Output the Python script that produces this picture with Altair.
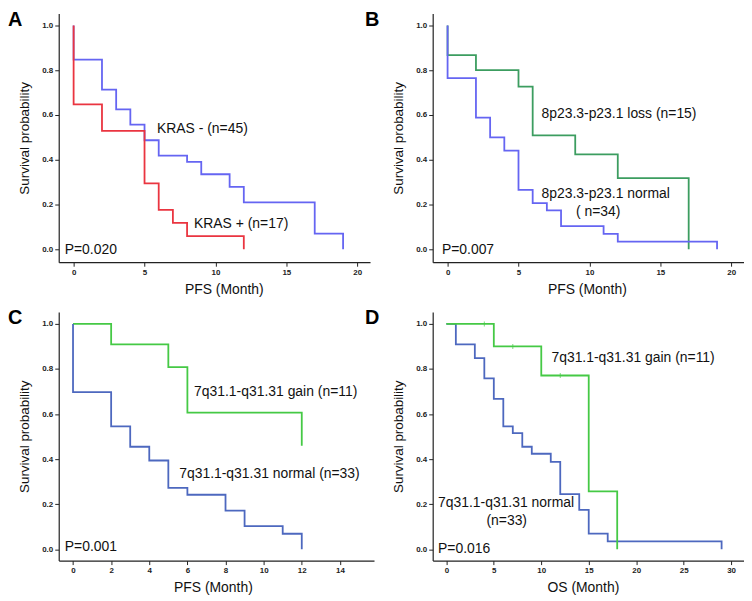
import altair as alt
import pandas as pd

FONT = "Liberation Sans"

# ---------------- data ----------------
# Panel A  (PFS, KRAS)
a_blue_t = [0, 0, 2, 3, 4, 5, 6, 8, 9, 11, 12, 17, 19]
a_blue_s = [1.0, 0.847, 0.713, 0.625, 0.557, 0.487, 0.418, 0.39, 0.335, 0.279, 0.209, 0.07, 0.0]
a_red_t = [0, 0, 2, 5, 6, 7, 8, 12]
a_red_s = [1.0, 0.647, 0.529, 0.294, 0.176, 0.118, 0.059, 0.0]

# Panel B  (PFS, 8p23.3-p23.1)
b_green_t = [0, 0, 2, 5, 6, 9, 12, 17]
b_green_s = [1.0, 0.867, 0.8, 0.727, 0.509, 0.424, 0.318, 0.0]
b_blue_t = [0, 0, 2, 3, 4, 5, 6, 7, 8, 11, 12, 19]
b_blue_s = [1.0, 0.765, 0.588, 0.5, 0.441, 0.265, 0.206, 0.174, 0.103, 0.069, 0.034, 0.0]

# Panel C  (PFS, 7q31.1-q31.31)
c_green_t = [0, 2, 5, 6, 12]
c_green_s = [1.0, 0.909, 0.808, 0.606, 0.46]
c_blue_t = [0, 0, 2, 3, 4, 5, 6, 8, 9, 11, 12]
c_blue_s = [1.0, 0.697, 0.545, 0.455, 0.394, 0.273, 0.242, 0.172, 0.103, 0.069, 0.0]

# Panel D  (OS, 7q31.1-q31.31)
d_green_t = [0, 5, 10, 15, 18]
d_green_s = [1.0, 0.9, 0.771, 0.257, 0.0]
d_cens_t = [4, 7, 12]
d_cens_s = [1.0, 0.9, 0.771]
d_blue_t = [0, 1, 3, 4, 5, 6, 7, 8, 9, 11, 12, 14, 15, 17, 29]
d_blue_s = [1.0, 0.909, 0.848, 0.758, 0.667, 0.545, 0.515, 0.455, 0.424, 0.388, 0.245, 0.175, 0.07, 0.035, 0.0]

y_ticks = [0.0, 0.2, 0.4, 0.6, 0.8, 1.0]
ab_x_ticks = [0, 5, 10, 15, 20]
c_x_ticks = [0, 2, 4, 6, 8, 10, 12, 14]
d_x_ticks = [0, 5, 10, 15, 20, 25, 30]

a_labels = ["KRAS - (n=45)", "KRAS + (n=17)", "P=0.020"]
a_lx = [5.88, 8.49, -0.63]
a_ly = [0.518, 0.095, -0.022]

b_labels = ["8p23.3-p23.1 loss (n=15)", "8p23.3-p23.1 normal", "( n=34)", "P=0.007"]
b_lx = [6.62, 6.62, 9.05, -0.4]
b_ly = [0.587, 0.231, 0.149, -0.02]

c_labels = ["7q31.1-q31.31 gain (n=11)", "7q31.1-q31.31 normal (n=33)", "P=0.001"]
c_lx = [6.35, 5.57, -0.43]
c_ly = [0.682, 0.316, -0.007]

d_labels = ["7q31.1-q31.31 gain (n=11)", "7q31.1-q31.31 normal", "(n=33)", "P=0.016"]
d_lx = [11.07, -0.88, 4.22, -0.88]
d_ly = [0.829, 0.187, 0.106, -0.015]

BLUE_AB = "#6565f2"
RED = "#ea3540"
GREEN_B = "#3c9d60"
GREEN_CD = "#45c945"
BLUE_CD = "#4d68bf"


def panel(curves, xdom, ydom, xticks, xtitle, title_x, labels, lx, ly,
          letter, letter_dx, width, censors=None):
    xenc = alt.X("t:Q", scale=alt.Scale(domain=xdom, nice=False, zero=False),
                 axis=alt.Axis(values=xticks, title=xtitle, titleX=title_x))
    yenc = alt.Y("s:Q", scale=alt.Scale(domain=ydom, nice=False, zero=False),
                 axis=alt.Axis(values=y_ticks, format=".1f", title="Survival probability"))
    layers = []
    for t, s, color in curves:
        df = pd.DataFrame({"t": t, "s": s, "i": list(range(len(t)))})
        layers.append(
            alt.Chart(df).mark_line(interpolate="step-after", strokeWidth=1.8, color=color)
            .encode(x=xenc, y=yenc, order="i:Q")
        )
    if censors is not None:
        ct, cs, ccol = censors
        cdf = pd.DataFrame({"t": ct, "s": cs})
        layers.append(
            alt.Chart(cdf).mark_tick(orient="vertical", size=5, thickness=1, color=ccol)
            .encode(x=xenc, y=yenc)
        )
    tdf = pd.DataFrame({"t": lx, "s": ly, "label": labels})
    layers.append(
        alt.Chart(tdf).mark_text(align="left", baseline="alphabetic", font=FONT,
                                 fontSize=14, color="#111")
        .encode(x=xenc, y=yenc, text="label:N")
    )
    ldf = pd.DataFrame({"letter": [letter]})
    layers.append(
        alt.Chart(ldf).mark_text(align="left", baseline="top", font=FONT, fontSize=20,
                                 fontWeight="bold", color="#000")
        .encode(x=alt.value(letter_dx), y=alt.value(-4), text="letter:N")
    )
    return alt.layer(*layers).properties(width=width, height=250)


ydom_ab = [-0.058, 1.053]
ydom_cd = [-0.05, 1.053]

pA = panel([(a_blue_t, a_blue_s, BLUE_AB), (a_red_t, a_red_s, RED)],
           [-1.05, 20.9], ydom_ab, ab_x_ticks, "PFS (Month)", 166,
           a_labels, a_lx, a_ly, "A", -51, 313)
pB = panel([(b_green_t, b_green_s, GREEN_B), (b_blue_t, b_blue_s, BLUE_AB)],
           [-1.05, 20.9], ydom_ab, ab_x_ticks, "PFS (Month)", 155,
           b_labels, b_lx, b_ly, "B", -68, 313)
pC = panel([(c_green_t, c_green_s, GREEN_CD), (c_blue_t, c_blue_s, BLUE_CD)],
           [-0.75, 15.79], ydom_cd, c_x_ticks, "PFS (Month)", 155,
           c_labels, c_lx, c_ly, "C", -51, 317)
pD = panel([(d_blue_t, d_blue_s, BLUE_CD), (d_green_t, d_green_s, GREEN_CD)],
           [-1.44, 31.36], ydom_cd, d_x_ticks, "OS (Month)", 151,
           d_labels, d_lx, d_ly, "D", -68, 313,
           censors=(d_cens_t, d_cens_s, GREEN_CD))

chart = alt.concat(pA, pB, pC, pD, columns=2,
                   spacing={"row": 50, "column": 59}, bounds="flush").properties(
    padding=0
).configure_view(strokeWidth=0).configure_axis(
    grid=False,
    domainColor="#222",
    domainWidth=1.2,
    tickColor="#222",
    tickSize=4,
    labelFont=FONT,
    labelFontSize=8,
    labelFontWeight="bold",
    labelColor="#222",
    labelPadding=2,
    labelFlush=False,
    titleFont=FONT,
    titleFontWeight="normal",
    titleColor="#111",
).configure_axisX(titleFontSize=14, titlePadding=6).configure_axisY(
    titleFontSize=13.5, titlePadding=10)

chart.save("out.html", embed_options={"renderer": "svg", "actions": False})
